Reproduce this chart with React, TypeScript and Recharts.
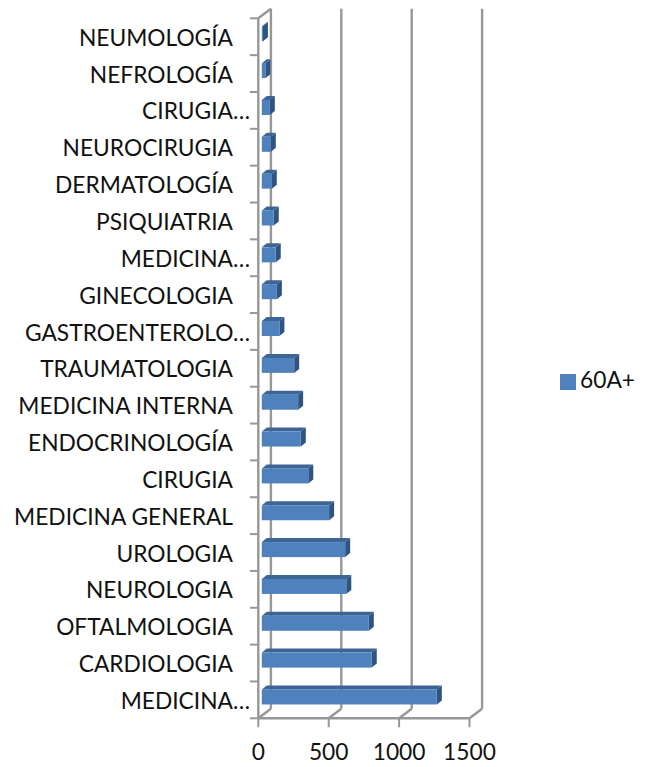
import React from "react";
import { BarChart, Bar, XAxis, YAxis, CartesianGrid, Legend } from "recharts";

const categories = ["NEUMOLOGÍA","NEFROLOGÍA","CIRUGIA…","NEUROCIRUGIA","DERMATOLOGÍA","PSIQUIATRIA","MEDICINA…","GINECOLOGIA","GASTROENTEROLO…","TRAUMATOLOGIA","MEDICINA INTERNA","ENDOCRINOLOGÍA","CIRUGIA","MEDICINA GENERAL","UROLOGIA","NEUROLOGIA","OFTALMOLOGIA","CARDIOLOGIA","MEDICINA…"];
const values60 = [8,25,57,64,71,85,99,107,125,230,258,277,330,478,592,600,760,781,1243];
const xTicks = [0,500,1000,1500];
const seriesName = "60A+";
const data = categories.map((c,i)=>({key:i+":"+c,name:c,v:values60[i]}));

const STEP = 700/19;
const GRID = "#979797";
const FONT = "Lato, sans-serif";
const DX = 12.6, DY = 9.6;

const YTick = (p:any) => {
  const { y, payload, index } = p;
  const label = categories[payload.index ?? index] ?? "";
  const trunc = label.endsWith("…");
  const i = payload.index ?? index;
  return (
    <g>
      <line x1={250} x2={258} y1={y-STEP/2} y2={y-STEP/2} stroke={GRID} strokeWidth={2}/>
      {i===categories.length-1 && <line x1={250} x2={258} y1={y+STEP/2} y2={y+STEP/2} stroke={GRID} strokeWidth={2}/>}
      <text x={trunc?250:233} y={y+3.3} textAnchor="end" dominantBaseline="middle" fontFamily={FONT} fontSize={22.75} fill="#111">{label}</text>
    </g>
  );
};

const XTick = (p:any) => {
  const { x, payload } = p;
  return <text x={x} y={754} textAnchor="middle" dominantBaseline="middle" fontFamily={FONT} fontSize={22.75} fill="#111">{payload.value}</text>;
};

const GridV = (p:any) => {
  const { x1, y1, y2, index } = p;
  return (
    <g stroke={GRID} strokeWidth={2.4} fill="none">
      <line x1={x1+DX} x2={x1+DX} y1={y1-DY} y2={y2-DY}/>
      <line x1={x1} x2={x1+DX} y1={y2} y2={y2-DY}/>
      {index===0 && <line x1={x1} x2={x1+DX} y1={y1} y2={y1-DY}/>}
    </g>
  );
};

const Bar3D = (p:any) => {
  const { x, y, width, height } = p;
  const bx = x+3.5, by = y-3, w = Math.max(width,1), h = height;
  const dx = 5, dy = 4;
  return (
    <g>
      <polygon points={`${bx},${by} ${bx+dx},${by-dy} ${bx+w+dx},${by-dy} ${bx+w},${by}`} fill="#3c6596"/>
      <polygon points={`${bx+w},${by} ${bx+w+dx},${by-dy} ${bx+w+dx},${by+h-dy} ${bx+w},${by+h}`} fill="#2f5482"/>
      <rect x={bx} y={by} width={w} height={h} fill="#4f81bd"/>
    </g>
  );
};

export default function App(){
  return (
    <div style={{position:"absolute",left:0,top:0,width:654,height:767,background:"#fff"}}>
      <BarChart width={654} height={767} data={data} layout="vertical" margin={{top:18.3,right:88.5,bottom:0,left:0}} barCategoryGap={0}>
        <CartesianGrid horizontal={false} vertical={GridV as any} syncWithTicks/>
        <XAxis type="number" domain={[0,1500]} ticks={xTicks} height={48.7} interval={0} tick={XTick as any} tickLine={{stroke:GRID,strokeWidth:2}} tickSize={9} axisLine={{stroke:GRID,strokeWidth:2.4}}/>
        <YAxis type="category" dataKey="key" width={258.3} interval={0} tick={YTick as any} tickLine={false} axisLine={{stroke:GRID,strokeWidth:2.4}}/>
        <Legend layout="vertical" align="right" verticalAlign="top" iconType="square" iconSize={16}
          wrapperStyle={{left:560,top:366,width:96,fontFamily:FONT,fontSize:22.75,color:"#111"}}
          formatter={(v:any)=><span style={{color:"#111"}}>{v}</span>}/>
        <Bar dataKey="v" name={seriesName} fill="#4f81bd" barSize={15} shape={Bar3D as any} isAnimationActive={false}/>
      </BarChart>
    </div>
  );
}
